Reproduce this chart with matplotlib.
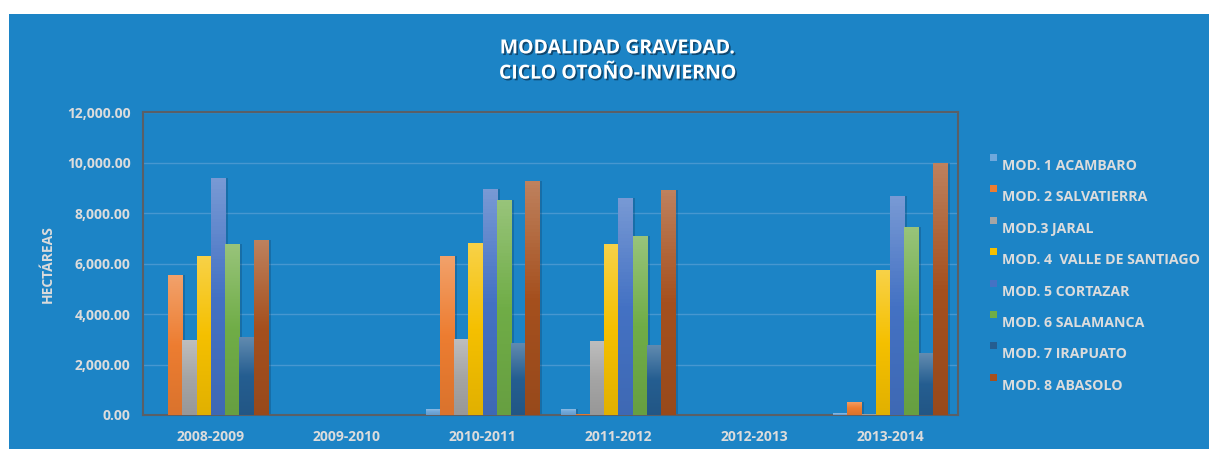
import numpy as np
import matplotlib
matplotlib.use("Agg")
import matplotlib.pyplot as plt
import matplotlib.patheffects as pe
from matplotlib.colors import LinearSegmentedColormap, to_rgb
from matplotlib.patches import Rectangle

# datos (hectáreas)
ciclos = ["2008-2009", "2009-2010", "2010-2011", "2011-2012", "2012-2013", "2013-2014"]
modulos = ["MOD. 1 ACAMBARO", "MOD. 2 SALVATIERRA", "MOD.3 JARAL",
           "MOD. 4  VALLE DE SANTIAGO", "MOD. 5 CORTAZAR", "MOD. 6 SALAMANCA",
           "MOD. 7 IRAPUATO", "MOD. 8 ABASOLO"]
mod1 = [0, 0, 240, 240, 0, 70]
mod2 = [5530, 0, 6310, 40, 0, 530]
mod3 = [2970, 0, 3010, 2940, 0, 40]
mod4 = [6310, 0, 6800, 6760, 0, 5730]
mod5 = [9380, 0, 8960, 8600, 0, 8670]
mod6 = [6790, 0, 8520, 7080, 0, 7460]
mod7 = [3100, 0, 2860, 2780, 0, 2450]
mod8 = [6920, 0, 9260, 8920, 0, 10000]
series = [mod1, mod2, mod3, mod4, mod5, mod6, mod7, mod8]
colores = ["#6fa8dc", "#ed7d31", "#a5a5a5", "#f5c000", "#4472c4", "#70ad47",
           "#255e91", "#a5501e"]

FONDO = "#1c84c6"
TXT = "#dcdcdc"
FONT = "Open Sans"

fig = plt.figure(figsize=(12.09, 4.49), dpi=100, facecolor="white")
fig.patches.append(Rectangle((9 / 1209, 0), 1, (449 - 14) / 449,
                             transform=fig.transFigure, facecolor=FONDO,
                             edgecolor="none", zorder=-10))

ax = fig.add_axes([143 / 1209, 34 / 449, 815 / 1209, 303 / 449])
ax.set_facecolor(FONDO)

x = np.arange(len(ciclos))
w = 0.105
n = len(series)


def gradiente(c):
    r, g, b = to_rgb(c)
    top = tuple(v + (1 - v) * 0.28 for v in (r, g, b))
    bot = tuple(v * 0.92 for v in (r, g, b))
    return LinearSegmentedColormap.from_list("g", [bot, (r, g, b), top])


for i, (vals, col) in enumerate(zip(series, colores)):
    pos = x + (i - (n - 1) / 2) * w
    # sombra
    ax.bar(pos + 0.02, vals, w, color="#0d3d63", alpha=0.3, zorder=2,
           linewidth=0)
    bars = ax.bar(pos, vals, w, color=col, zorder=3, linewidth=0)
    cm = gradiente(col)
    for b in bars:
        h = b.get_height()
        if h <= 0:
            continue
        im = ax.imshow(np.linspace(0, 1, 64).reshape(-1, 1), cmap=cm,
                       origin="lower", aspect="auto", zorder=4,
                       extent=[b.get_x(), b.get_x() + b.get_width(), 0, h])
        im.set_clip_path(b)

ax.set_xlim(-0.5, len(ciclos) - 0.5)
ax.set_ylim(0, 12000)
ax.set_yticks(np.arange(0, 12001, 2000))
ax.set_yticklabels([f"{v:,.2f}" for v in range(0, 12001, 2000)])
ax.set_xticks(x)
ax.set_xticklabels(ciclos)
ax.tick_params(length=0, colors=TXT, labelsize=10)
for lab in ax.get_xticklabels() + ax.get_yticklabels():
    lab.set_fontweight("bold")
    lab.set_fontfamily(FONT)
ax.tick_params(axis="y", pad=9)
ax.tick_params(axis="x", pad=11)
ax.grid(axis="y", color="#4797d0", linewidth=1, zorder=0)
ax.set_axisbelow(True)
for s in ax.spines.values():
    s.set_color("#5a5f66")
    s.set_linewidth(1.5)

fig.text(48 / 1209, 1 - 264 / 449, "HECTÁREAS", rotation=90, ha="center",
         va="center", color=TXT, fontsize=10, fontweight="bold", family=FONT)

fig.text(618 / 1209, 1 - 61 / 449, "MODALIDAD GRAVEDAD.\nCICLO OTOÑO-INVIERNO",
         ha="center", va="center", color="white", fontsize=14,
         fontweight="bold", family=FONT, linespacing=1.35,
         path_effects=[pe.withSimplePatchShadow(offset=(1.2, -1.2),
                                               shadow_rgbFace="#0a2f4d",
                                               alpha=0.7)])

# leyenda manual
for k, (lab, col) in enumerate(zip(modulos, colores)):
    y = 165 + k * 31.4
    fig.patches.append(Rectangle((990 / 1209, 1 - (y - 4) / 449), 7 / 1209,
                                 7 / 449, transform=fig.transFigure,
                                 facecolor=col, edgecolor="none"))
    fig.text(1002 / 1209, 1 - (y + 1) / 449, lab, ha="left", va="center",
             color=TXT, fontsize=10.2, fontweight="bold", family=FONT)

fig.savefig("out.png", dpi=100, facecolor="white")
